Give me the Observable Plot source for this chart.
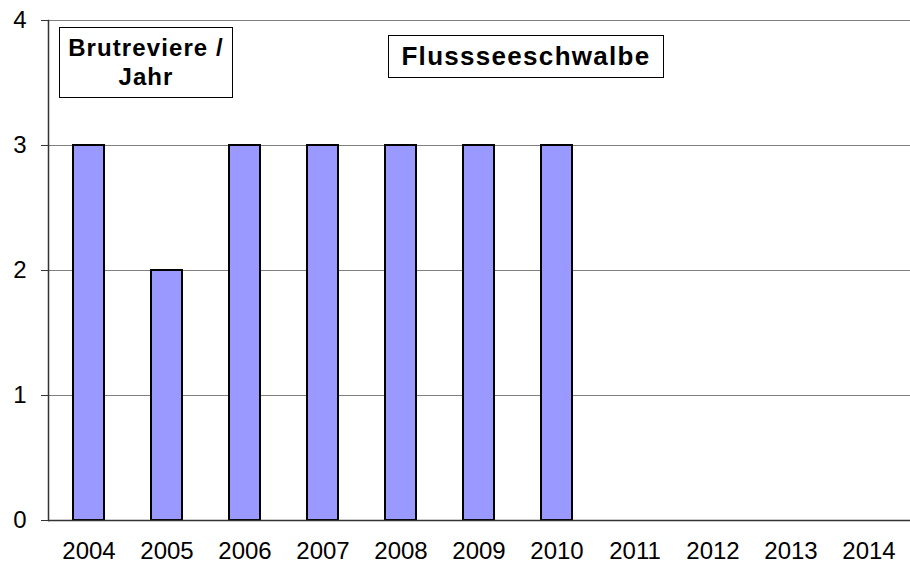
<!DOCTYPE html>
<html>
<head>
<meta charset="utf-8">
<script src="https://cdn.jsdelivr.net/npm/d3@7"></script>
<script src="https://cdn.jsdelivr.net/npm/@observablehq/plot@0.6"></script>
<style>
  html, body { margin: 0; padding: 0; background: #fff; }
  #wrap { position: relative; width: 910px; height: 563px; font-family: "Liberation Sans", Arial, sans-serif; }
  .box { position: absolute; border: 1px solid #000; background: #fff; font-weight: bold; color: #000; text-align: center; box-sizing: border-box; white-space: nowrap; }
</style>
</head>
<body>
<div id="wrap"></div>
<script>
const years = ["2004","2005","2006","2007","2008","2009","2010","2011","2012","2013","2014"];
const values = [3, 2, 3, 3, 3, 3, 3, null, null, null, null];
const yTicks = [0, 1, 2, 3, 4];
const gridValues = [1, 2, 3, 4];
const titleText = "Flussseeschwalbe";
const unitLines = ["Brutreviere /", "Jahr"];

const data = years.map((year, i) => ({year, value: values[i]})).filter(d => d.value != null);

const chart = Plot.plot({
  width: 910,
  height: 563,
  marginLeft: 48,
  marginRight: 0,
  marginTop: 20,
  marginBottom: 43,
  style: {fontFamily: "'Liberation Sans', Arial, sans-serif", fontSize: "24px", color: "#000", background: "#fff"},
  x: {type: "band", domain: years, paddingInner: 0.6, paddingOuter: 0.3},
  y: {domain: [0, 4]},
  marks: [
    Plot.ruleY(gridValues, {stroke: "#808080", strokeWidth: 1}),
    Plot.barY(data, {x: "year", y: "value", fill: "#9999ff", stroke: "#000", strokeWidth: 2}),
    Plot.ruleY([0], {stroke: "#333", strokeWidth: 1.5}),
    Plot.frame({anchor: "left", stroke: "#333", strokeWidth: 1.5}),
    Plot.axisY({ticks: yTicks, tickSize: 7, tickPadding: 15, fontSize: 24, label: null, stroke: "#333", tickFormat: d3.format("d")}),
    Plot.axisX({tickSize: 0, tickPadding: 21, fontSize: 24, label: null})
  ]
});

const wrap = document.getElementById("wrap");
wrap.appendChild(chart);

const unitBox = document.createElement("div");
unitBox.className = "box";
Object.assign(unitBox.style, {left: "59px", top: "27px", width: "174px", height: "71px", fontSize: "24px", lineHeight: "29px", paddingTop: "5px", letterSpacing: "1.1px"});
unitBox.innerHTML = unitLines.join("<br>");
wrap.appendChild(unitBox);

const titleBox = document.createElement("div");
titleBox.className = "box";
Object.assign(titleBox.style, {left: "388px", top: "35px", width: "276px", height: "43px", fontSize: "26px", lineHeight: "41px", letterSpacing: "1.3px"});
titleBox.textContent = titleText;
wrap.appendChild(titleBox);
</script>
</body>
</html>
